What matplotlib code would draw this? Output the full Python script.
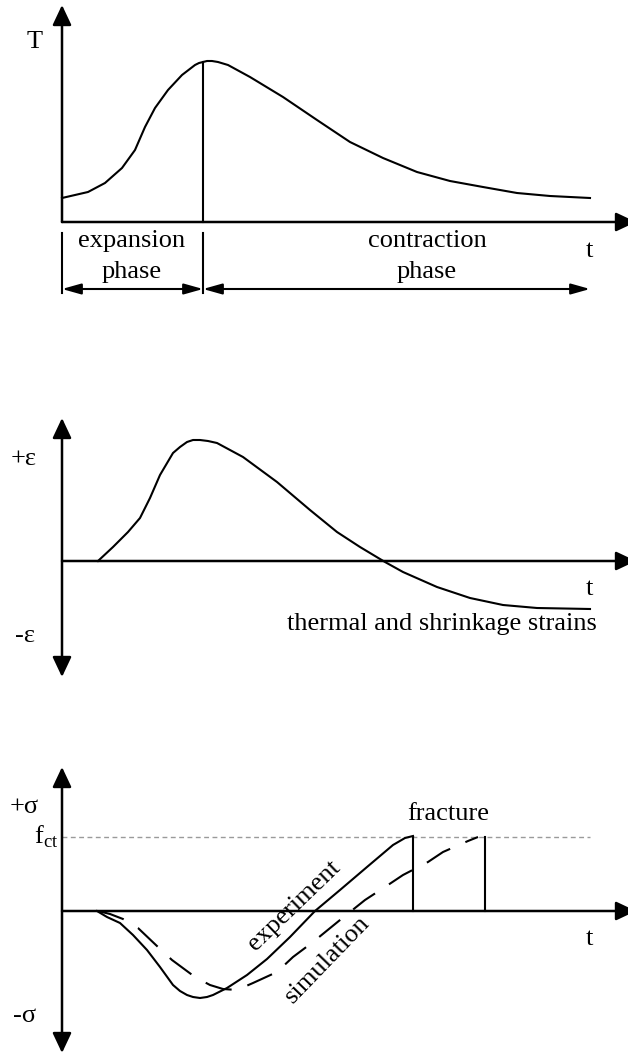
import matplotlib
matplotlib.use('Agg')
import matplotlib.pyplot as plt
from matplotlib.patches import ArrowStyle

plt.rcParams['font.family'] = ['Liberation Serif', 'DejaVu Serif']
plt.rcParams['mathtext.fontset'] = 'custom'
plt.rcParams['mathtext.rm'] = 'Liberation Serif'

# ---------------- data (schematic units, origin at axis crossing) ----------------
temp_t = [0, 26, 43, 60, 73, 83, 93, 106, 120, 133, 137, 141, 145, 150, 156, 166, 188,
          221, 255, 288, 321, 355, 388, 421, 455, 488, 528]
temp_v = [24, 30, 39, 54, 72, 95, 114, 132, 147, 157, 159, 160, 161, 161, 160, 157, 145,
          125, 102, 80, 64, 50, 41, 35, 29, 26, 24]
peak_t = 141

strain_t = [36, 51, 66, 78, 88, 98, 111, 118, 125, 131, 138, 146, 155, 181, 215, 248,
            275, 298, 323, 341, 375, 408, 441, 475, 528]
strain_v = [0, 14, 29, 43, 63, 86, 108, 114, 119, 121, 121, 120, 118, 104, 79, 51,
            29, 14, -1, -11, -26, -37, -44, -47, -48]

exp_t = [35, 45, 58, 71, 85, 98, 111, 118, 125, 131, 138, 145, 151, 165, 185, 205, 228,
         253, 278, 305, 331, 343, 351]
exp_v = [0, -6, -12, -24, -39, -56, -74, -80, -84, -86, -87, -86, -84, -77, -64, -48, -26,
         0, 21, 44, 66, 73, 75]

sim_t = [36, 48, 61, 76, 96, 110, 133, 148, 161, 175, 191, 215, 231, 251, 278, 288,
         303, 326, 341, 366, 381, 406, 416]
sim_v = [0, -3, -8, -17, -36, -49, -66, -74, -78, -79, -72, -61, -46, -31, -9, -1,
         11, 26, 36, 49, 59, 70, 74]

f_ct = 74
exp_fracture_t = 351
sim_fracture_t = 423
t_end = 528

phase_labels = ["expansion\nphase", "contraction\nphase"]

# ---------------- figure ----------------
W, H = 628, 1056
fig = plt.figure(figsize=(W / 100, H / 100), dpi=100)
FS = 19
LW = 1.5
AX_LW = 1.8


def panel(top, bottom, origin):
    ax = fig.add_axes([0, 1 - bottom / H, 1, (bottom - top) / H])
    ax.set_xlim(-62, W - 62)
    ax.set_ylim(-(bottom - origin), origin - top)
    ax.set_axis_off()
    return ax


def arrow(ax, x0, y0, x1, y1, style='-|>', hl=17, hw=8, lw=AX_LW):
    ms = 10
    st = ArrowStyle(style, head_length=hl * 0.72 / ms, head_width=hw * 0.72 / ms)
    ax.annotate('', xy=(x1, y1), xytext=(x0, y0),
                arrowprops=dict(arrowstyle=st, mutation_scale=ms, lw=lw,
                                color='black', shrinkA=0, shrinkB=0),
                annotation_clip=False)


# ---- panel 1: temperature ----
ax1 = panel(0, 310, 222)
arrow(ax1, 0, 0, 0, 217)
arrow(ax1, 0, 0, 574, 0)
ax1.plot(temp_t, temp_v, color='black', lw=LW, solid_joinstyle='round')
pk = temp_v[temp_t.index(peak_t)]
ax1.plot([peak_t, peak_t], [0, pk], color='black', lw=LW)
ax1.plot([0, 0], [-11, -71], color='black', lw=LW)
ax1.plot([peak_t, peak_t], [-11, -71], color='black', lw=LW)
arrow(ax1, 0, -67, peak_t, -67, style='<|-|>', hl=16, hw=4.5, lw=LW)
arrow(ax1, peak_t, -67, t_end, -67, style='<|-|>', hl=16, hw=4.5, lw=LW)
ax1.text(-27, 174, "T", fontsize=FS, ha='center', va='baseline')
ax1.text(527, -35, "t", fontsize=FS, ha='center', va='baseline')
for cx, lab in zip([70, 365], phase_labels):
    l1, l2 = lab.split("\n")
    ax1.text(cx, -25, l1, fontsize=FS, ha='center', va='baseline')
    ax1.text(cx, -56, l2, fontsize=FS, ha='center', va='baseline')

# ---- panel 2: strains ----
ax2 = panel(400, 700, 561)
arrow(ax2, 0, -116, 0, 143, style='<|-|>')
arrow(ax2, 0, 0, 574, 0)
ax2.plot(strain_t, strain_v, color='black', lw=LW, solid_joinstyle='round')
ax2.text(-38, 96, "+ε", fontsize=FS, ha='center', va='baseline')
ax2.text(-37, -81, "-ε", fontsize=FS, ha='center', va='baseline')
ax2.text(527, -34, "t", fontsize=FS, ha='center', va='baseline')
ax2.text(535, -69, "thermal and shrinkage strains", fontsize=FS, ha='right', va='baseline')

# ---- panel 3: stresses ----
ax3 = panel(755, 1056, 911)
arrow(ax3, 0, -142, 0, 144, style='<|-|>')
arrow(ax3, 0, 0, 574, 0)
ax3.plot([0, t_end], [f_ct, f_ct], color='#9a9a9a', lw=1.0, linestyle=(0, (3.5, 2.5)))
ax3.plot(exp_t, exp_v, color='black', lw=LW, solid_joinstyle='round')
ax3.plot(sim_t, sim_v, color='black', lw=LW, linestyle=(0, (13, 8)))
ax3.plot([exp_fracture_t, exp_fracture_t], [0, f_ct], color='black', lw=LW)
ax3.plot([sim_fracture_t, sim_fracture_t], [0, f_ct], color='black', lw=LW)
ax3.text(-38, 98, "+σ", fontsize=FS, ha='center', va='baseline')
ax3.text(-4, 68, r"$\mathrm{f}_{\mathrm{ct}}$", fontsize=FS, ha='right', va='baseline')
ax3.text(-37, -111, "-σ", fontsize=FS, ha='center', va='baseline')
ax3.text(386, 91, "fracture", fontsize=FS, ha='center', va='baseline')
ax3.text(527, -34, "t", fontsize=FS, ha='center', va='baseline')
ax3.text(232, 5, "experiment", fontsize=FS, ha='center', va='center',
         rotation=44, rotation_mode='anchor')
ax3.text(265, -49, "simulation", fontsize=FS, ha='center', va='center',
         rotation=46, rotation_mode='anchor')

fig.savefig("out.png", dpi=100, facecolor='white')
